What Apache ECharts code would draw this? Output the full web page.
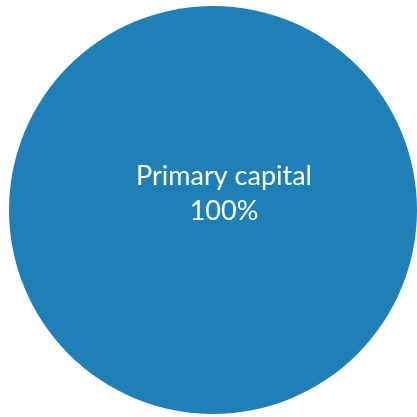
<!DOCTYPE html>
<html>
<head>
<meta charset="utf-8">
<script src="https://cdn.jsdelivr.net/npm/echarts@6/dist/echarts.min.js"></script>
<style>
  html, body { margin: 0; padding: 0; background: #fff; }
  #main { width: 417px; height: 417px; }
</style>
</head>
<body>
<div id="main"></div>
<script>
// slices
var names = ['Primary capital'];
var values = [100];

var chart = echarts.init(document.getElementById('main'));

var pieData = [];
for (var i = 0; i < names.length; i++) {
  pieData.push({ name: names[i], value: values[i] });
}

chart.setOption({
  animation: false,
  color: ['#1f80b8'],
  series: [{
    type: 'pie',
    center: [213, 210],
    radius: 204,
    data: pieData,
    itemStyle: { borderWidth: 0 },
    label: {
      position: 'center',
      offset: [11, -16],
      formatter: '{b}\n{d}%',
      color: '#ffffff',
      fontFamily: 'Lato',
      fontSize: 27,
      lineHeight: 35
    },
    labelLine: { show: false },
    emphasis: { disabled: true }
  }]
});
</script>
</body>
</html>
